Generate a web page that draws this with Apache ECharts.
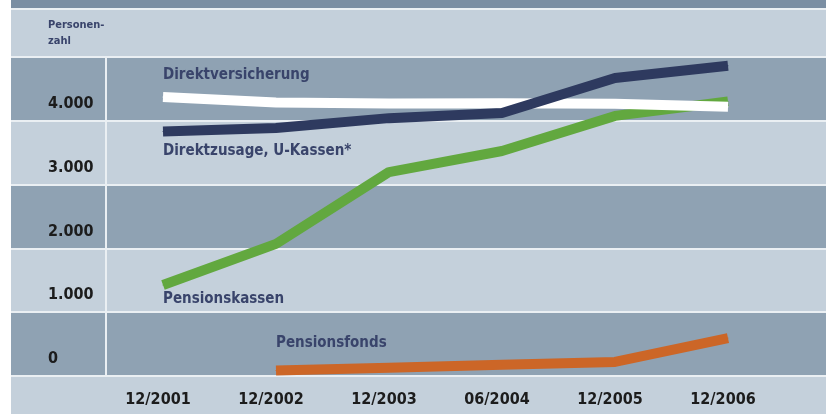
<!DOCTYPE html>
<html>
<head>
<meta charset="utf-8">
<script src="https://cdn.jsdelivr.net/npm/echarts@6/dist/echarts.min.js"></script>
<style>
  html, body { margin: 0; padding: 0; background: #ffffff; }
  #chart { width: 826px; height: 414px; background: linear-gradient(to right, #ffffff 11px, #c4d0db 11px); }
</style>
</head>
<body>
<div id="chart"></div>
<script>
const categories = ['12/2001', '12/2002', '12/2003', '06/2004', '12/2005', '12/2006'];
const direktversicherung = [4370, 4285, 4270, 4275, 4265, 4220];
const direktzusage = [3830, 3885, 4040, 4120, 4670, 4860];
const pensionskassen = [1425, 2070, 3195, 3525, 4075, 4300];
const pensionsfonds = [null, 85, 130, 175, 220, 595];
const yTickLabels = ['0', '1.000', '2.000', '3.000', '4.000'];
const seriesNames = ['Direktversicherung', 'Direktzusage, U-Kassen*', 'Pensionskassen', 'Pensionsfonds'];

const FONT = "'Liberation Sans Narrow', 'DejaVu Sans Condensed', sans-serif";
const NAVY_TXT = '#39446b';
const DARK = '#8fa2b3', LIGHT = '#c4d0db', SPLIT = '#eaeff3';

function withLabel(arr, dy) {
  let first = arr.findIndex(v => v !== null);
  return arr.map((v, i) => i === first ? {
    value: v,
    label: {
      show: true, position: 'inside', align: 'left', verticalAlign: 'middle',
      offset: [0, dy], formatter: '{a}', color: NAVY_TXT,
      fontFamily: FONT, fontWeight: 'bold', fontSize: 15
    }
  } : v);
}

function lineSeries(name, color, data, z) {
  return {
    name: name, type: 'line', xAxisIndex: 1, yAxisIndex: 1,
    symbol: 'circle', symbolSize: 1, showSymbol: true,
    itemStyle: { color: color },
    lineStyle: { color: color, width: 10 }, data: data, z: z
  };
}

const chart = echarts.init(document.getElementById('chart'), null, { renderer: 'canvas' });
chart.setOption({
  animation: false,
  title: {
    text: 'Personen-\nzahl', left: 48, top: 17, padding: 0,
    textStyle: { fontFamily: FONT, fontWeight: 'bold', fontSize: 11, lineHeight: 16, color: NAVY_TXT }
  },
  grid: [
    { left: 11, right: 0, top: 9, bottom: 38 },
    { left: 163, right: 98, top: 9, bottom: 38 }
  ],
  xAxis: [
    { gridIndex: 0, type: 'category', data: categories, show: false },
    {
      gridIndex: 1, type: 'category', data: categories, boundaryGap: false,
      axisLine: { show: false }, axisTick: { show: false }, splitLine: { show: false },
      axisLabel: {
        margin: 16, color: '#1c1c1c', fontFamily: FONT, fontWeight: 'bold', fontSize: 16,
        padding: [0, 10, 0, 0]
      }
    }
  ],
  yAxis: [
    {
      gridIndex: 0, type: 'value', min: 0, max: 5750, interval: 1000,
      axisLine: { show: false }, axisTick: { show: false },
      splitLine: { show: true, lineStyle: { color: SPLIT, width: 2 } },
      splitArea: { show: true, areaStyle: { color: [DARK, LIGHT] } },
      axisLabel: {
        inside: true, margin: 37, align: 'left', verticalAlign: 'bottom',
        padding: [0, 0, 9, 0], color: '#1c1c1c', fontFamily: FONT, fontWeight: 'bold', fontSize: 16,
        showMaxLabel: false,
        formatter: v => { const i = Math.round(v / 1000); return (v % 1000 === 0 && i < yTickLabels.length) ? yTickLabels[i] : ''; }
      }
    },
    { gridIndex: 1, type: 'value', min: 0, max: 5750, show: false, splitLine: { show: false } }
  ],
  graphic: [
    { type: 'rect', left: 11, top: 0, shape: { width: 815, height: 8 }, style: { fill: '#7a8ea3' }, z: 100 },
    { type: 'line', shape: { x1: 106, y1: 57, x2: 106, y2: 376 }, style: { stroke: SPLIT, lineWidth: 2 }, z: 100 }
  ],
  series: [
    lineSeries(seriesNames[2], '#62a83f', withLabel(pensionskassen, 14), 3),
    lineSeries(seriesNames[0], '#ffffff', withLabel(direktversicherung, -22), 4),
    lineSeries(seriesNames[1], '#2e3a5f', withLabel(direktzusage, 20), 5),
    lineSeries(seriesNames[3], '#cc6627', withLabel(pensionsfonds, -27), 3)
  ]
});
</script>
</body>
</html>
